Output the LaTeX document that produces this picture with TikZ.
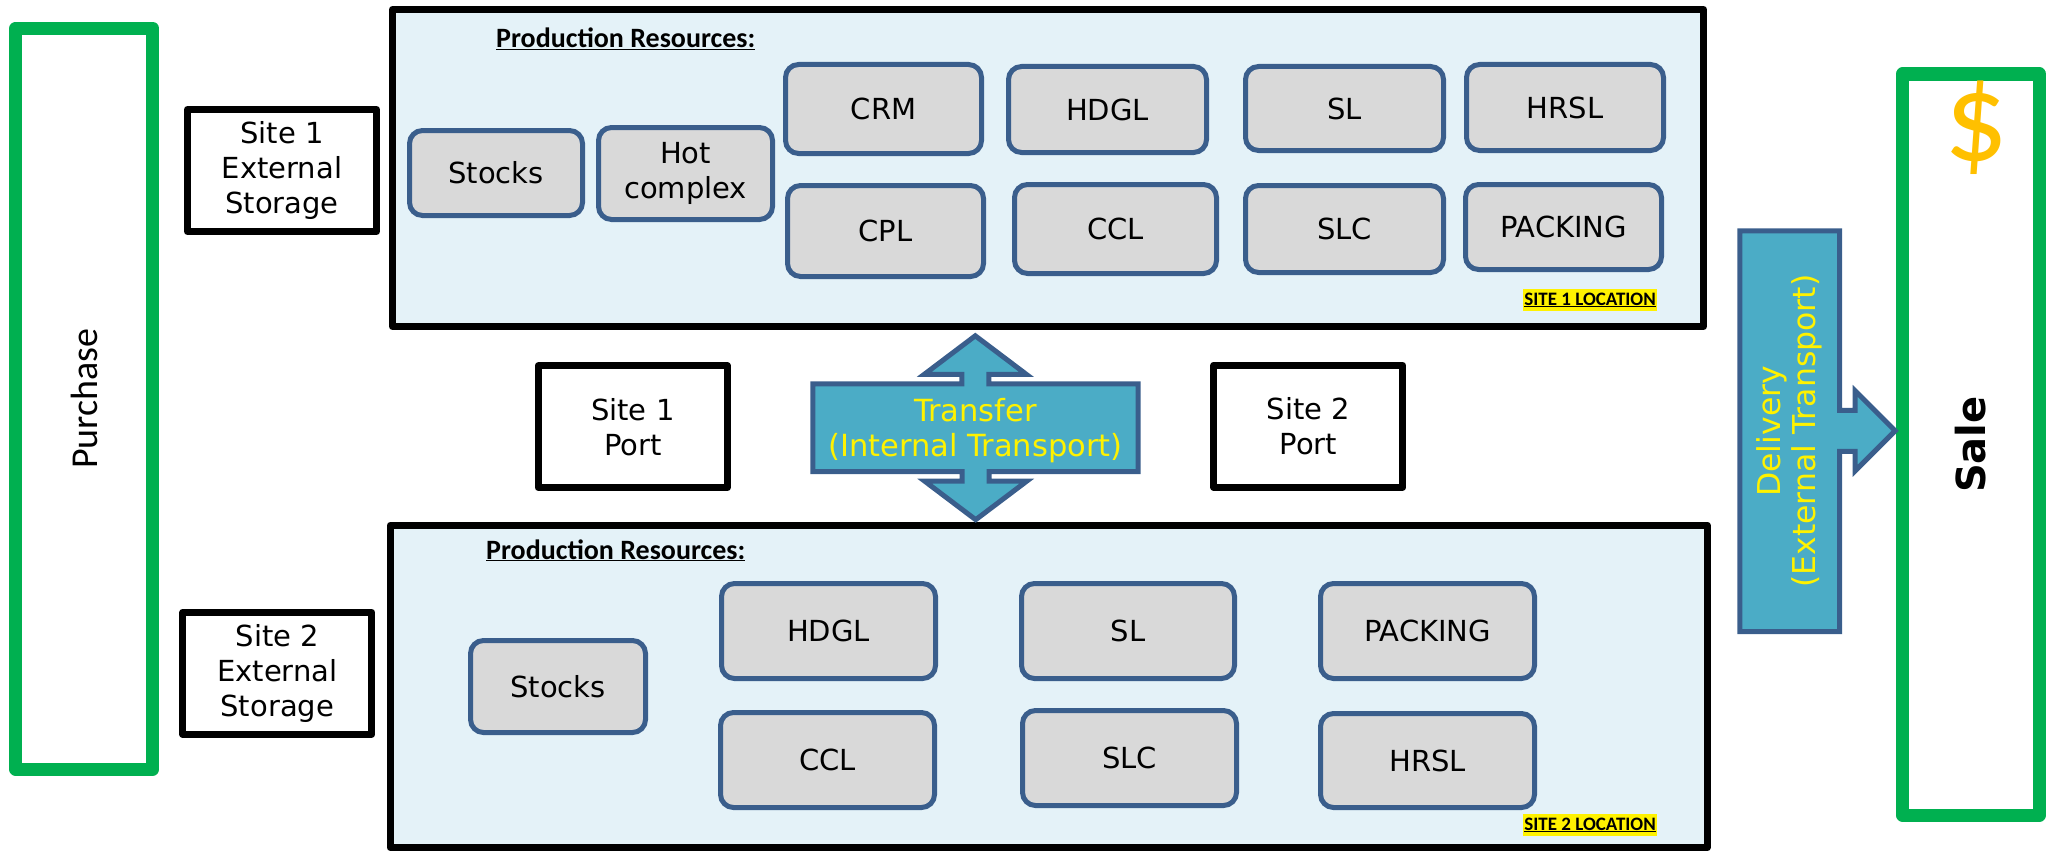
\documentclass[tikz,border=0pt]{standalone}
\usepackage{fontspec}
\setmainfont{DejaVu Sans}
\newfontfamily\calfont{Carlito}
\usetikzlibrary{calc}
\definecolor{salegreen}{RGB}{0,176,80}
\definecolor{areablue}{RGB}{228,242,248}
\definecolor{resgray}{RGB}{217,217,217}
\definecolor{resblue}{RGB}{58,94,140}
\definecolor{arrowteal}{RGB}{75,172,198}
\definecolor{dollargold}{RGB}{255,192,0}

\begin{document}
\begin{tikzpicture}[x=1pt, y=-1pt]
  \tikzset{
    endbox/.style={draw=salegreen, line width=13pt, line join=round, fill=white, rotate=90, minimum width=741pt, minimum height=137pt},
    sitebox/.style={draw, line width=7pt, line join=round, fill=white, minimum width=189pt, minimum height=122pt, align=center, font=\fontsize{29pt}{35pt}\selectfont},
    sitearea/.style={draw, line width=7pt, line join=round, fill=areablue},
    res/.style={draw=resblue, line width=5pt, rounded corners=13pt, fill=resgray, align=center, inner sep=0pt, font=\fontsize{29pt}{35pt}\selectfont},
    transport/.style={draw=resblue, line width=5pt, fill=arrowteal},
    transtext/.style={text=yellow, align=center, font=\fontsize{30.5pt}{35pt}\selectfont},
    reshead/.style={anchor=base west, inner sep=0pt, font=\calfont\bfseries\fontsize{28pt}{34pt}\selectfont},
    loc/.style={anchor=base east, fill=yellow, inner xsep=1pt, inner ysep=0pt, text height=16pt, text depth=6pt, font=\calfont\bfseries\fontsize{19pt}{23pt}\selectfont}
  }
  \useasboundingbox (0,0) rectangle (2053,851);

  % Purchase and sale
  \node[endbox, font=\calfont\fontsize{38pt}{44pt}\selectfont] (purchase) at (84.3,398.7) {Purchase};
  \node[endbox, font=\bfseries\fontsize{40pt}{46pt}\selectfont] (sale) at (1971,444.5) {Sale};
  \node[text=dollargold, font=\calfont\fontsize{126pt}{130pt}\selectfont] (dollar) at (1976,128) {\$};

  % External storages and ports
  \node[sitebox] (ext1) at (282,170.5) {Site 1\\External\\Storage};
  \node[sitebox] (ext2) at (277.3,673.3) {Site 2\\External\\Storage};
  \node[sitebox] (port1) at (632.8,426.7) {Site 1\\Port};
  \node[sitebox] (port2) at (1308.3,426.2) {Site 2\\Port};

  % Site 1
  \node[sitearea, minimum width=1311pt, minimum height=317pt] (site1) at (1048,168) {};
  \node[reshead] (head1) at (496,48) {\underline{Production Resources:}};
  \node[res, minimum width=173pt, minimum height=85pt] (s1stocks) at (496,173) {Stocks};
  \node[res, minimum width=174pt, minimum height=92pt] (s1hot) at (685.5,173.5) {Hot\\complex};
  \node[res, minimum width=196pt, minimum height=89pt] (s1crm) at (883.5,109) {CRM};
  \node[res, minimum width=196pt, minimum height=91pt] (s1cpl) at (885.5,231) {CPL};
  \node[res, minimum width=198pt, minimum height=86pt] (s1hdgl) at (1107.5,109.5) {HDGL};
  \node[res, minimum width=202pt, minimum height=89pt] (s1ccl) at (1115.5,229) {CCL};
  \node[res, minimum width=198pt, minimum height=84pt] (s1sl) at (1344.5,108.5) {SL};
  \node[res, minimum width=198pt, minimum height=87pt] (s1slc) at (1344.5,229) {SLC};
  \node[res, minimum width=197pt, minimum height=86pt] (s1hrsl) at (1565,107.5) {HRSL};
  \node[res, minimum width=196pt, minimum height=85pt] (s1pack) at (1563.5,227) {PACKING};
  \node[loc] (loc1) at (1657,305) {\underline{SITE 1 LOCATION}};

  % Site 2
  \node[sitearea, minimum width=1317pt, minimum height=322.3pt] (site2) at (1048.7,686.4) {};
  \node[reshead] (head2) at (486,559) {\underline{Production Resources:}};
  \node[res, minimum width=175pt, minimum height=92pt] (s2stocks) at (558,686.5) {Stocks};
  \node[res, minimum width=214pt, minimum height=95pt] (s2hdgl) at (828.5,631) {HDGL};
  \node[res, minimum width=214pt, minimum height=95pt] (s2ccl) at (827.5,760) {CCL};
  \node[res, minimum width=213pt, minimum height=95pt] (s2sl) at (1128,631) {SL};
  \node[res, minimum width=214pt, minimum height=95pt] (s2slc) at (1129.5,758) {SLC};
  \node[res, minimum width=214pt, minimum height=95pt] (s2pack) at (1427.5,631) {PACKING};
  \node[res, minimum width=214pt, minimum height=94pt] (s2hrsl) at (1427.5,760.5) {HRSL};
  \node[loc] (loc2) at (1657,830) {\underline{SITE 2 LOCATION}};

  % Transfer arrow
  \node[minimum width=325pt, minimum height=87.5pt] (transfer) at (975.5,427.75) {};
  \draw[transport] (transfer.north west) -- ++(149,0) -- ++(0,-9.5) -- ++(-37.5,0) -- ++(51,-38.5)
    -- ++(51,38.5) -- ++(-37.5,0) -- ++(0,9.5) -- (transfer.north east) -- (transfer.south east)
    -- ++(-149,0) -- ++(0,9.5) -- ++(37.5,0) -- ++(-51,38.5) -- ++(-51,-38.5) -- ++(37.5,0)
    -- ++(0,-9.5) -- (transfer.south west) -- cycle;
  \node[transtext, yshift=-3pt] (transferlbl) at (transfer.center) {Transfer\\(Internal Transport)};

  % Delivery arrow
  \node[minimum width=99.5pt, minimum height=400.5pt] (delivery) at (1789.75,431.25) {};
  \draw[transport] (delivery.north west) -- (delivery.north east) -- ++(0,179.5) -- ++(15.5,0)
    -- ++(0,-19.5) -- ++(40,40) -- ++(-40,40) -- ++(0,-19.5) -- ++(-15.5,0)
    -- (delivery.south east) -- (delivery.south west) -- cycle;
  \node[transtext, rotate=90, font=\fontsize{31.5pt}{35pt}\selectfont] (deliverylbl) at (delivery.center) {Delivery\\(External Transport)};

\end{tikzpicture}
\end{document}
